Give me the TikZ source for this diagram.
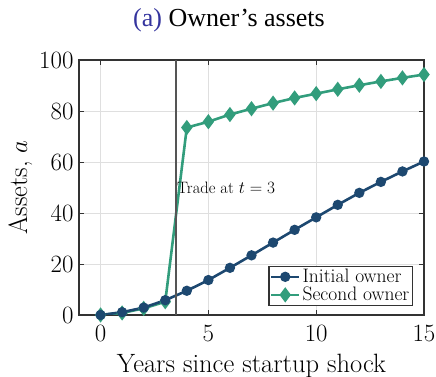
\documentclass[tikz,border=0pt]{standalone}
\usepackage{amsmath}
\usepackage{xcolor}
\usepackage{fontspec}
\usepackage{pgfplots}
\pgfplotsset{compat=1.18}
\usetikzlibrary{positioning}
\newfontfamily\titlefont[Ligatures=TeX]{Liberation Serif}
\definecolor{initblue}{RGB}{29,72,112}
\definecolor{secgreen}{RGB}{50,157,124}
\definecolor{capblue}{RGB}{52,52,158}
\definecolor{tradegray}{RGB}{85,85,85}

\begin{document}
\begin{tikzpicture}[x=1pt, y=1pt]
	\useasboundingbox (0,0) rectangle (436,377);
	\node (title) at (229,357) {\titlefont\fontsize{26}{30}\selectfont\textcolor{capblue}{(a)} Owner’s assets};
	\begin{axis}[at={(79pt,62pt)}, anchor=south west, scale only axis, width=345pt, height=255pt,
		xmin=-1, xmax=15, ymin=0, ymax=100,
		xtick={0,5,10,15}, ytick={0,20,...,100},
		grid=major, major grid style={gray!25, line width=0.8pt},
		axis line style={line width=1.2pt, black!80},
		major tick length=5pt, tick style={black!80, line width=0.8pt},
		tick label style={font=\fontsize{25}{27}\selectfont},
		xticklabel style={yshift=-7pt}, yticklabel style={xshift=-2pt},
		label style={font=\fontsize{26.5}{29}\selectfont},
		xlabel style={yshift=-6pt},
		xlabel={Years since startup shock}, ylabel={Assets, $a$},
		reverse legend,
		legend style={at={(0.968,0.035)}, anchor=south east, draw=black!80, line width=1.2pt,
			font=\fontsize{19.5}{22}\selectfont, inner sep=1pt, row sep=-1pt},
		legend image code/.code={\draw[line width=2.6pt, mark repeat=2, mark phase=2] plot coordinates {(0pt,0pt) (14pt,0pt) (28pt,0pt)};},
		legend cell align=left]
		\addplot[secgreen, line width=2.6pt, mark=diamond*, mark size=5.5pt] coordinates {
			(0,0) (1,0.8) (2,2.6) (3,5.2) (4,73.5) (5,75.8) (6,78.6) (7,80.9) (8,83.1) (9,85.1)
			(10,86.8) (11,88.5) (12,90.1) (13,91.6) (14,93.0) (15,94.3)};
		\addlegendentry{Second owner}
		\addplot[initblue, line width=2.6pt, mark=*, mark size=3.8pt] coordinates {
			(0,0) (1,1.1) (2,2.9) (3,5.8) (4,9.5) (5,13.7) (6,18.5) (7,23.4) (8,28.4) (9,33.4)
			(10,38.3) (11,43.2) (12,47.9) (13,52.2) (14,56.3) (15,60.2)};
		\addlegendentry{Initial owner}
		\draw[tradegray, line width=1.6pt] (axis cs:3.5,0) -- (axis cs:3.5,100);
		\node[anchor=west, inner sep=1pt, font=\fontsize{16.5}{19}\selectfont] (trade) at (axis cs:3.5,50) {Trade at $t=3$};
	\end{axis}
\end{tikzpicture}
\end{document}
